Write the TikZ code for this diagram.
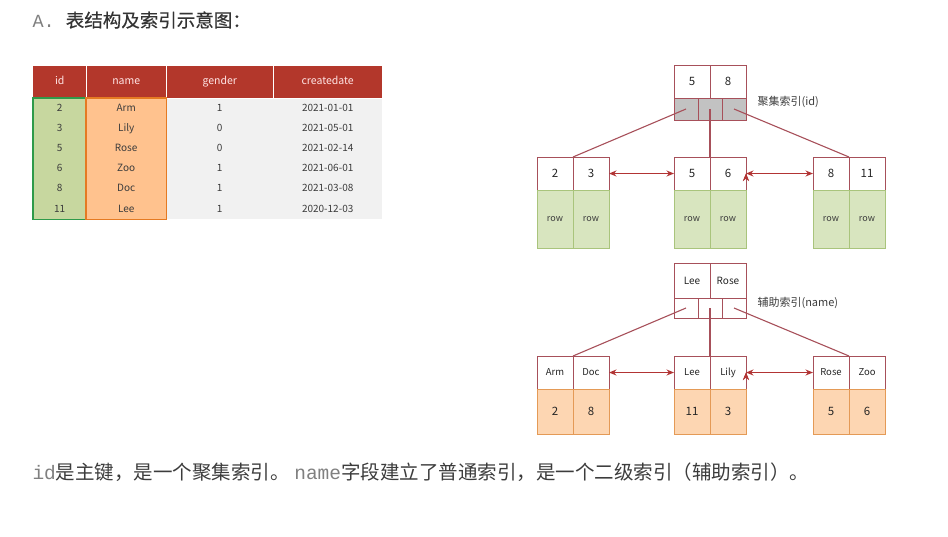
\documentclass[tikz,border=0pt]{standalone}
\usepackage{fontspec}
\setmainfont{Noto Sans CJK SC}
\setmonofont{Liberation Mono}
\usepackage{tikz}
\usetikzlibrary{matrix,arrows.meta,positioning}

\definecolor{hdred}{HTML}{B3372B}
\definecolor{idgreen}{HTML}{C7D79F}
\definecolor{idline}{HTML}{2F9A4A}
\definecolor{nmorange}{HTML}{FFC28E}
\definecolor{nmline}{HTML}{E57A22}
\definecolor{bggray}{HTML}{F1F1F1}
\definecolor{txt}{HTML}{3C3C3C}
\definecolor{bord}{HTML}{A7505A}
\definecolor{arr}{HTML}{B23434}
\definecolor{rowgreen}{HTML}{D8E5BF}
\definecolor{rowline}{HTML}{A9C47C}
\definecolor{valor}{HTML}{FDD6B2}
\definecolor{valline}{HTML}{E49A56}
\definecolor{ptrgray}{HTML}{C2C2C2}

\tikzset{
  keycell/.style={draw=bord, fill=white, line width=1pt, outer sep=0pt, minimum width=36pt,
    minimum height=33pt, inner sep=0pt, text=black!85, font=\fontsize{11.5}{13}\selectfont},
  ptrcell/.style={draw=bord, line width=1pt, outer sep=0pt, minimum width=24pt, minimum height=22pt, inner sep=0pt},
  rowcell/.style={draw=rowline, fill=rowgreen, line width=1pt, outer sep=0pt, minimum width=36pt,
    minimum height=58pt, inner sep=0pt, text=txt, font=\fontsize{9}{10}\selectfont},
  valcell/.style={draw=valline, fill=valor, line width=1pt, outer sep=0pt, minimum width=36pt,
    minimum height=45pt, inner sep=0pt, text=black!85, font=\fontsize{11.5}{13}\selectfont},
  link/.style={draw=bord, line width=1.1pt},
  sib/.style={draw=arr, line width=1.2pt, {Stealth[length=7.5pt,width=6pt]}-{Stealth[length=7.5pt,width=6pt]}},
  tag/.style={anchor=west, text=txt, font=\fontsize{11}{13}\selectfont}
}

\begin{document}
\begin{tikzpicture}[x=1pt,y=-1pt]
  \useasboundingbox (0,0) rectangle (948,536);

  \node[anchor=west, text=black!80, font=\fontsize{18.5}{22}\selectfont] (title) at (29,20)
    {{\color{gray}\ttfamily A. }\addfontfeature{FakeBold=0.5}表结构及索引示意图：};

  % table
  \matrix [%
    matrix of nodes,
    anchor=north west,
    inner sep=0pt,
    column sep=0pt,
    row sep=0pt,
    nodes={inner sep=0pt, minimum height=20.2pt, text height=7.5pt, text depth=2pt,
      text=txt, font=\fontsize{10}{12}\selectfont},
    column 1/.style={nodes={minimum width=53pt, fill=idgreen}},
    column 2/.style={nodes={minimum width=80pt, fill=nmorange}},
    column 3/.style={nodes={minimum width=107pt, fill=bggray}},
    column 4/.style={nodes={minimum width=109pt, fill=bggray}},
    row 1/.style={nodes={fill=hdred, text=white!90!red, minimum height=32pt, font=\fontsize{10.5}{12}\selectfont}}
  ] (tab) at (33,66) {%
    id & name & gender & createdate \\
    2  & Arm  & 1 & 2021-01-01 \\
    3  & Lily & 0 & 2021-05-01 \\
    5  & Rose & 0 & 2021-02-14 \\
    6  & Zoo  & 1 & 2021-06-01 \\
    8  & Doc  & 1 & 2021-03-08 \\
    11 & Lee  & 1 & 2020-12-03 \\
  };
  \foreach \c in {1,2,3} {\draw[white, line width=1.2pt] (tab-1-\c.north east) -- (tab-1-\c.south east);};
  \draw[white, line width=1.2pt] (tab-1-1.south west) -- (tab-1-4.south east);
  \draw[idline, line width=1.5pt] (tab-2-1.north west) rectangle (tab-7-1.south east);
  \draw[nmline, line width=1.5pt] (tab-2-2.north west) rectangle (tab-7-2.south east);

  % clustered index
  \node[keycell] (ck1) at (692,81.5) {5};
  \node[keycell, right=0pt of ck1] (ck2) {8};
  \foreach \i/\x in {1/686,2/710,3/734}
    {\node[ptrcell, fill=ptrgray] (cp\i) at (\x,109) {};};
  \node[tag] (ctag) at (754,102) {聚集索引(id)};

  \foreach \n/\x/\a/\b in {1/555/2/3, 2/692/5/6, 3/831/8/11} {
    \node[keycell] (cl\n a) at (\x,173.5) {\a};
    \node[keycell, right=0pt of cl\n a] (cl\n b) {\b};
    \node[rowcell, below=0pt of cl\n a] (cr\n a) {row};
    \node[rowcell, below=0pt of cl\n b] (cr\n b) {row};
  };

  \path[link] (cp1.center) edge (cl1a.north east)
              (cp2.center) edge (cl2a.north east)
              (cp3.center) edge (cl3a.north east);
  \path[sib] (cl1b.east) edge (cl2a.west)
             (cl2b.east) edge (cl3a.west);

  % secondary index
  \node[keycell, minimum height=35pt, font=\fontsize{10}{12}\selectfont] (sk1) at (692,280.5) {Lee};
  \node[keycell, minimum height=35pt, font=\fontsize{10}{12}\selectfont, right=0pt of sk1] (sk2) {Rose};
  \foreach \i/\x in {1/686,2/710,3/734}
    {\node[ptrcell, fill=white, minimum height=20pt] (sp\i) at (\x,308) {};};
  \node[tag] (stag) at (754,303) {辅助索引(name)};

  \foreach \n/\x/\a/\b/\c/\d in {1/555/Arm/Doc/2/8, 2/692/Lee/Lily/11/3, 3/831/Rose/Zoo/5/6} {
    \node[keycell, font=\fontsize{9.5}{11}\selectfont] (sl\n a) at (\x,372.5) {\a};
    \node[keycell, font=\fontsize{9.5}{11}\selectfont, right=0pt of sl\n a] (sl\n b) {\b};
    \node[valcell, below=0pt of sl\n a] (sv\n a) {\c};
    \node[valcell, below=0pt of sl\n b] (sv\n b) {\d};
  };

  \path[link] (sp1.center) edge (sl1a.north east)
              (sp2.center) edge (sl2a.north east)
              (sp3.center) edge (sl3a.north east);
  \path[sib] (sl1b.east) edge (sl2a.west)
             (sl2b.east) edge (sl3a.west);

  \node[anchor=west, text=txt, font=\fontsize{19.5}{23}\selectfont] (note) at (29,472)
    {{\color{gray}\ttfamily id}是主键，是一个聚集索引。 {\color{gray}\ttfamily name}字段建立了普通索引，是一个二级索引（辅助索引）。};
\end{tikzpicture}
\end{document}
